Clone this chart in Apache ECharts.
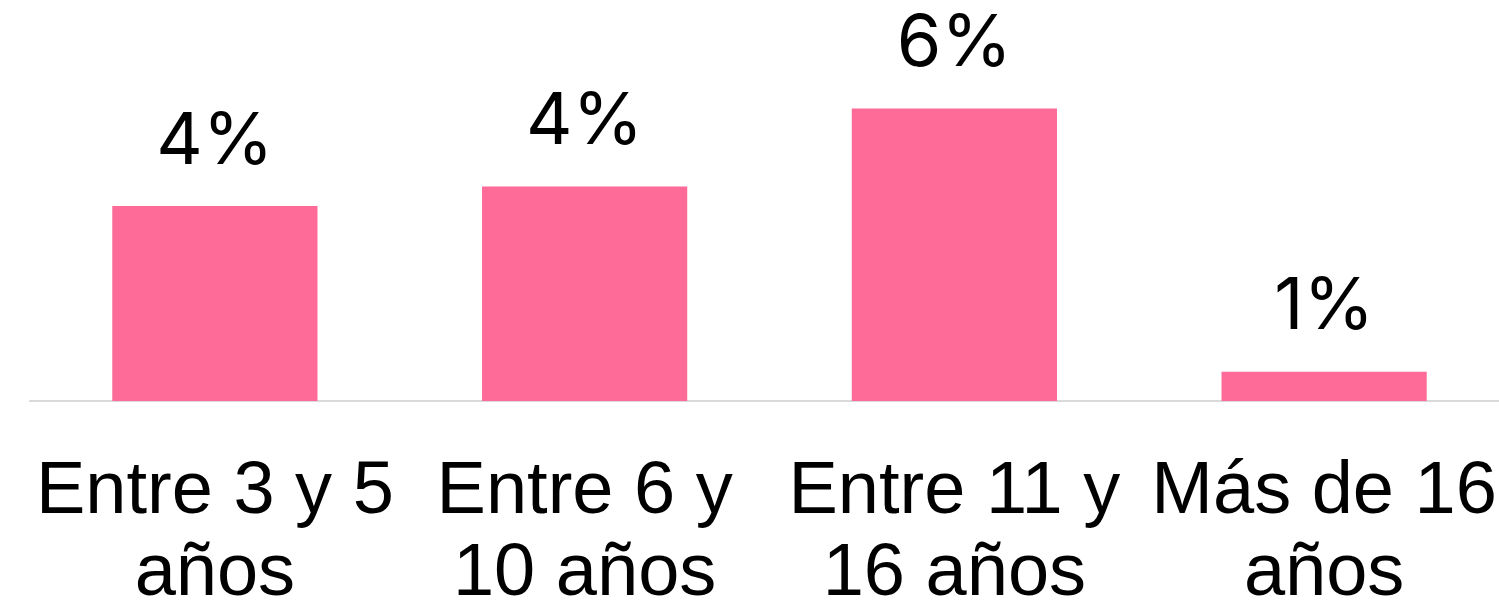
<!DOCTYPE html>
<html>
<head>
<meta charset="utf-8">
<script src="https://cdn.jsdelivr.net/npm/echarts@6/dist/echarts.min.js"></script>
<style>
body {
  margin: 0;
  padding: 0;
  background: #fff;
}

#chart {
  width: 1499px;
  height: 603px;
}
</style>
</head>
<body>
<div id="chart"></div>
<script>
// age groups and share of each (labels shown rounded)
const categories = ['Entre 3 y 5\naños', 'Entre 6 y\n10 años', 'Entre 11 y\n16 años', 'Más de 16\naños']
const values = [4.0, 4.4, 6.0, 0.6]

const chart = echarts.init(document.getElementById('chart'))
chart.setOption({
  backgroundColor: '#ffffff',
  animation: false,
  grid: {
    left: 30,
    top: 11,
    width: 1479,
    height: 390,
    outerBoundsMode: 'none',
    containLabel: false
  },
  xAxis: {
    type: 'category',
    data: categories,
    axisLine: {
      lineStyle: {
        color: '#d9d9d9',
        width: 2
      }
    },
    axisTick: { show: false },
    axisLabel: {
      interval: 0,
      color: '#000',
      fontFamily: 'Liberation Sans',
      fontSize: 74,
      lineHeight: 82,
      margin: 51
    }
  },
  yAxis: {
    type: 'value',
    min: 0,
    max: 8,
    show: false,
    splitLine: { show: false }
  },
  series: [
    {
      type: 'bar',
      data: values,
      barWidth: '55.5%',
      itemStyle: {
        color: '#ff6b99'
      },
      label: {
        show: true,
        position: 'top',
        distance: 28,
        color: '#000',
        fontFamily: 'Inter',
        fontSize: 72,
        formatter: p => Math.round(p.value) + '%'
      }
    }
  ]
})
</script>
</body>
</html>
